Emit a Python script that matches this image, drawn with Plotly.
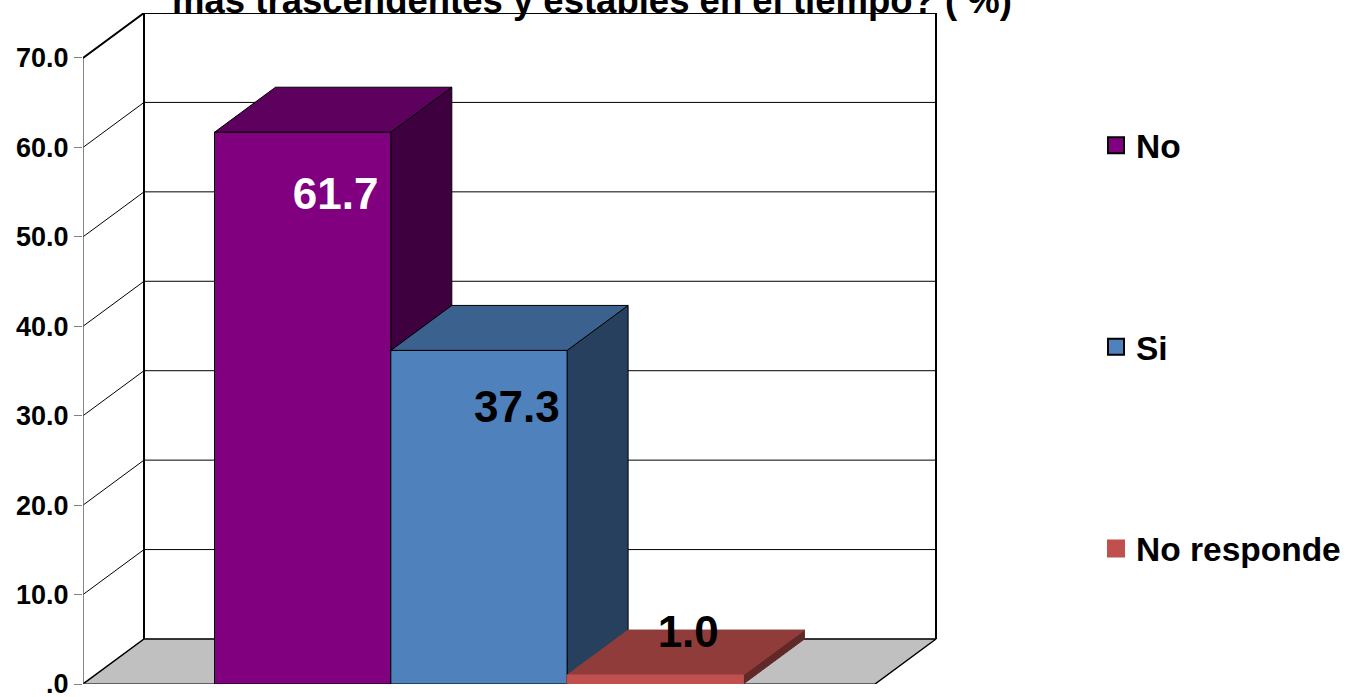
import plotly.graph_objects as go

categories = ["No", "Si", "No responde"]
values = [61.7, 37.3, 1.0]
value_labels = ["61.7", "37.3", "1.0"]
tick_values = [0, 10, 20, 30, 40, 50, 60, 70]
tick_labels = [".0", "10.0", "20.0", "30.0", "40.0", "50.0", "60.0", "70.0"]
title_text = "más trascendentes y estables en el tiempo? ( %)"

front_colors = ["#800080", "#4F81BD", "#C0504D"]
top_colors = ["#5E005E", "#3B618E", "#903C3A"]
side_colors = ["#3E003E", "#27405E", "#602827"]
edge_colors = ["#000000", "#000000", None]
label_colors = ["#FFFFFF", "#000000", "#000000"]

# Chart geometry in axis units (bar width = 1 on x)
W, H = 1349, 697
L, B, T = 83, 13, 13
PX_X = 176.3          # pixels per x unit
PX_Y = 8.943          # pixels per y unit
DX = 61 / PX_X        # depth offset along x
DY = 45 / PX_Y        # depth offset along y
FLOOR_W = 792 / PX_X  # width of front floor edge
BAR0 = 131.5 / PX_X   # left gap before first bar
Y_TOP = 70
FONT = "Liberation Sans"

LABEL_DX = [0.187, 0.215, 0.187]
LABEL_Y = [54.3, 30.5, 5.4]

fig = go.Figure()


def poly(xs, ys, fill=None, line=None, width=1):
    fig.add_trace(go.Scatter(
        x=xs, y=ys, mode="lines", cliponaxis=False, hoverinfo="skip", showlegend=False,
        fill="toself" if fill else None, fillcolor=fill,
        line=dict(color=line or fill or "rgba(0,0,0,0)", width=width if (line or fill) else 0),
    ))


# Gridlines on side and back walls
for v in tick_values[1:-1]:
    poly([0, DX, DX + FLOOR_W], [v, v + DY, v + DY], line="#000000", width=1)

# Walls
poly([0, 0], [0, Y_TOP], line="#606060", width=1.5)
poly([0, DX, DX + FLOOR_W, DX + FLOOR_W], [Y_TOP, Y_TOP + DY, Y_TOP + DY, DY], line="#000000", width=2)
poly([DX, DX], [DY, Y_TOP + DY], line="#000000", width=2)

# Floor
poly([0, FLOOR_W, FLOOR_W + DX, DX, 0], [0, 0, DY, DY, 0], fill="#C0C0C0")
poly([0, DX, DX + FLOOR_W, FLOOR_W], [0, DY, DY, 0], line="#000000", width=1.5)
poly([0, FLOOR_W], [0, 0], line="#404040", width=1.5)

# Bars
for i, v in enumerate(values):
    x0, x1 = BAR0 + i, BAR0 + i + 1
    e = edge_colors[i]
    poly([x1, x1 + DX, x1 + DX, x1, x1], [0, DY, v + DY, v, 0], fill=side_colors[i], line=e or side_colors[i])
    poly([x0, x1, x1 + DX, x0 + DX, x0], [v, v, v + DY, v + DY, v], fill=top_colors[i], line=e or top_colors[i])
    poly([x0, x1, x1, x0, x0], [0, 0, v, v, 0], fill=front_colors[i], line=e or front_colors[i])

# Value labels
for i, v in enumerate(values):
    fig.add_trace(go.Scatter(
        x=[BAR0 + i + 0.5 + LABEL_DX[i]], y=[LABEL_Y[i]], mode="text", text=[value_labels[i]],
        textposition="middle center", cliponaxis=False, hoverinfo="skip", showlegend=False,
        textfont=dict(family=FONT, size=44, color=label_colors[i], weight=700),
    ))

# Legend entries
for i, c in enumerate(categories):
    fig.add_trace(go.Scatter(
        x=[None], y=[None], mode="markers", name=c, legendgroup=c,
        marker=dict(symbol="square", size=16, color=front_colors[i],
                    line=dict(color="#000000" if edge_colors[i] else front_colors[i], width=2)),
    ))

fig.update_layout(
    width=W, height=H, autosize=False,
    margin=dict(l=L, r=0, t=T, b=B, autoexpand=False),
    paper_bgcolor="#FFFFFF", plot_bgcolor="#FFFFFF",
    showlegend=True,
    title=dict(text=title_text, x=592 / W, xanchor="center", xref="container",
               y=1.0, yanchor="middle", yref="container", automargin=False,
               font=dict(family=FONT, size=36.5, color="#000000", weight=700)),
    legend=dict(x=1096 / W, xref="container", xanchor="left",
                y=1 - 117 / H, yref="container", yanchor="top", maxheight=650,
                tracegroupgap=155, itemsizing="trace", bgcolor="rgba(0,0,0,0)",
                font=dict(family=FONT, size=33.5, color="#000000", weight=700)),
    xaxis=dict(range=[0, (W - L) / PX_X], visible=False, fixedrange=True),
    yaxis=dict(range=[0, (H - T - B) / PX_Y], tickmode="array", tickvals=tick_values, ticktext=tick_labels,
               showgrid=False, zeroline=False, showline=False, ticks="outside", ticklen=8, tickwidth=1,
               tickcolor="#808080", ticklabelstandoff=0, fixedrange=True, ticklabeloverflow="allow",
               tickfont=dict(family=FONT, size=27, color="#000000", weight=700)),
)

fig.write_html("out.html", config=dict(displayModeBar=False),
               post_script="document.body.style.margin='0';document.body.style.overflow='hidden';")
